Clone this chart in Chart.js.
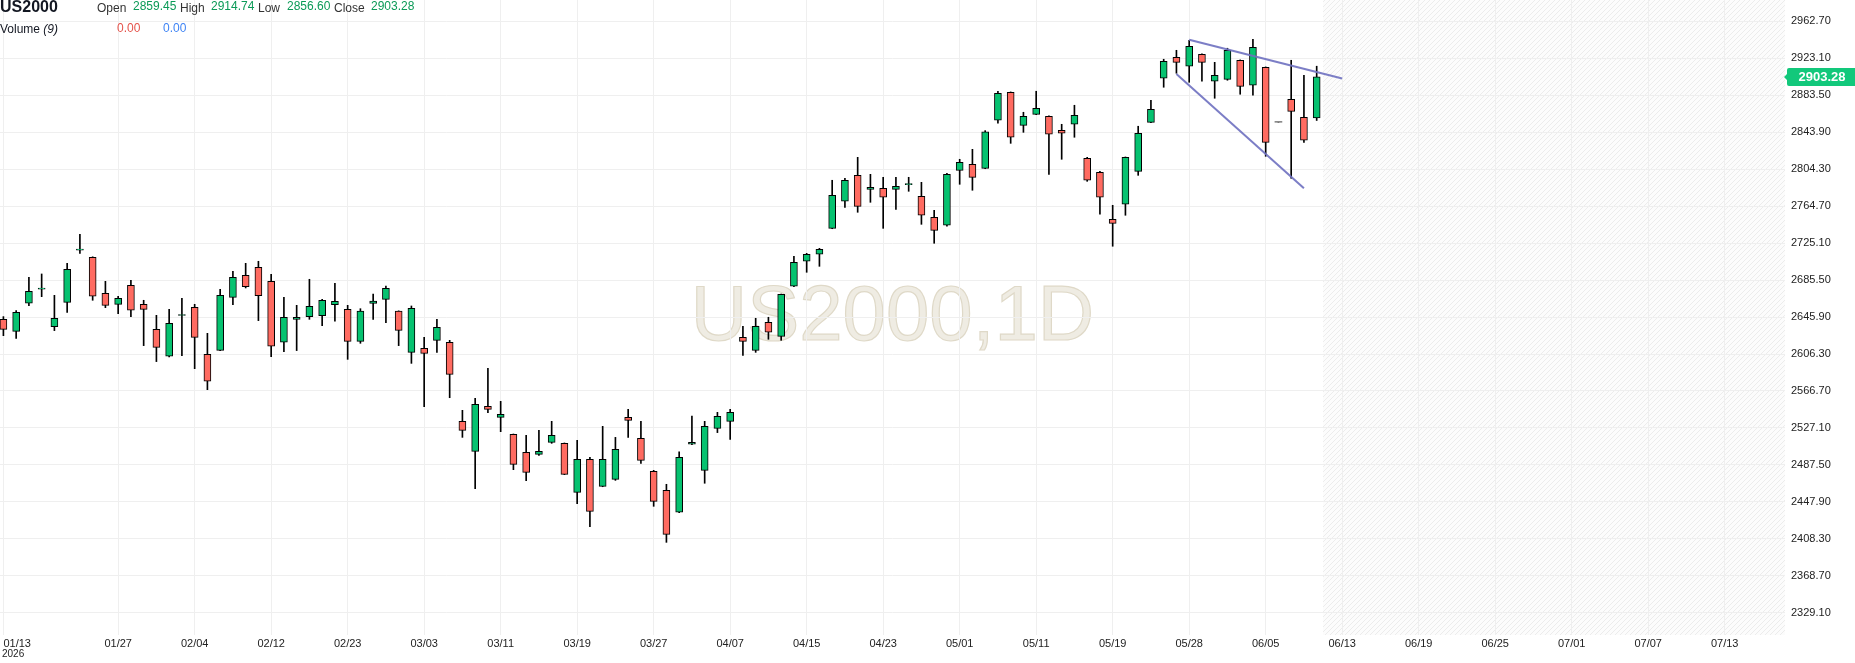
<!DOCTYPE html>
<html><head><meta charset="utf-8">
<script src="https://cdn.jsdelivr.net/npm/chart.js@4.4.1/dist/chart.umd.min.js"></script>
<style>
html,body{margin:0;padding:0;background:#fff;overflow:hidden}
#wrap{position:relative;width:1855px;height:663px}
#c{position:absolute;left:0;top:0}
.t{position:absolute;font-family:"Liberation Sans",Arial,sans-serif;font-size:12px;line-height:12px;white-space:nowrap;color:#333}
.v{color:#0b9a57}
</style></head><body>
<div id="wrap">
<canvas id="c" width="1855" height="663"></canvas>
<div class="t" style="left:0;top:-1px;font-size:16px;line-height:16px;font-weight:bold;color:#131722">US2000</div>
<div class="t" style="left:97px;top:1.5px">Open</div>
<div class="t v" style="left:133px;top:-0.3px">2859.45</div>
<div class="t" style="left:180px;top:1.5px">High</div>
<div class="t v" style="left:211px;top:-0.3px">2914.74</div>
<div class="t" style="left:258px;top:1.5px">Low</div>
<div class="t v" style="left:287px;top:-0.3px">2856.60</div>
<div class="t" style="left:334px;top:1.5px">Close</div>
<div class="t v" style="left:371px;top:-0.3px">2903.28</div>
<div class="t" style="left:0;top:23px;color:#131722">Volume <i>(9)</i></div>
<div class="t" style="left:117px;top:21.5px;color:#e5534b">0.00</div>
<div class="t" style="left:163px;top:21.5px;color:#3f84f5">0.00</div>
</div>
<script>
// ---- data ----
const dates = ['01/13','01/14','01/15','01/16','01/20','01/21','01/22','01/23','01/26','01/27','01/28','01/29','01/30',
'02/02','02/03','02/04','02/05','02/06','02/09','02/10','02/11','02/12','02/13','02/17','02/18','02/19','02/20','02/23','02/24','02/25','02/26','02/27',
'03/02','03/03','03/04','03/05','03/06','03/09','03/10','03/11','03/12','03/13','03/16','03/17','03/18','03/19','03/20','03/23','03/24','03/25','03/26','03/27','03/30','03/31',
'04/01','04/02','04/06','04/07','04/08','04/09','04/10','04/13','04/14','04/15','04/16','04/17','04/20','04/21','04/22','04/23','04/24','04/27','04/28','04/29','04/30',
'05/01','05/04','05/05','05/06','05/07','05/08','05/11','05/12','05/13','05/14','05/15','05/18','05/19','05/20','05/21','05/22','05/26','05/27','05/28','05/29',
'06/01','06/02','06/03','06/04','06/05','06/08','06/09','06/10','06/11'];

const opens = [2643.5,2630.6,2660.7,2675.8,2635.6,2661.7,2717.6,2710.0,2671.4,2659.6,
2680.0,2659.6,2632.8,2603.9,2647.6,2656.4,2606.0,2610.3,2667.1,2690.7,
2699.2,2684.2,2618.9,2643.5,2646.4,2647.5,2659.2,2654.2,2619.9,2660.6,
2664.9,2652.2,2608.1,2612.4,2621.0,2618.8,2534.2,2502.0,2550.2,2538.5,
2520.2,2500.9,2498.8,2511.7,2510.6,2458.1,2493.4,2464.5,2472.0,2538.5,
2516.0,2480.6,2460.2,2436.7,2509.6,2481.7,2526.7,2534.2,2624.2,2610.3,
2640.3,2625.3,2678.9,2705.7,2713.2,2741.0,2770.0,2797.8,2782.8,2783.9,
2782.8,2787.8,2775.3,2752.8,2744.3,2803.2,2809.6,2805.3,2856.8,2886.8,
2851.4,2863.2,2861.1,2846.1,2852.5,2816.1,2801.1,2750.7,2766.8,2802.1,
2854.6,2901.8,2924.3,2914.7,2927.5,2898.6,2900.7,2921.1,2894.3,2913.6,
2854.6,2879.3,2860.0,2859.45];

const highs = [2646.4,2652.8,2688.5,2692.1,2669.2,2703.5,2734.6,2710.5,2684.2,2668.2,
2685.3,2663.9,2647.8,2654.2,2666.0,2659.6,2628.5,2675.7,2695.0,2703.5,
2705.7,2691.7,2667.1,2658.5,2686.4,2665.0,2682.1,2658.5,2654.9,2670.6,
2679.2,2652.6,2657.8,2624.2,2643.5,2621.0,2546.0,2558.8,2591.0,2555.6,
2520.6,2519.2,2524.5,2534.2,2511.0,2513.8,2495.6,2528.8,2517.0,2547.0,
2534.2,2481.7,2466.7,2501.4,2539.9,2534.2,2543.8,2547.1,2636.0,2644.6,
2645.7,2670.6,2711.0,2714.2,2719.6,2792.5,2794.6,2817.1,2798.9,2795.7,
2795.7,2795.7,2790.3,2760.3,2800.0,2815.0,2825.7,2845.7,2887.9,2887.2,
2865.4,2887.9,2861.5,2852.5,2872.9,2817.1,2802.1,2765.7,2817.5,2850.4,
2878.2,2922.2,2931.8,2942.5,2927.9,2918.9,2934.0,2921.5,2943.6,2914.0,
2854.6,2921.1,2905.0,2914.74];

const lows = [2626.0,2623.1,2658.2,2667.8,2631.4,2651.0,2714.2,2663.9,2656.0,2649.6,
2646.4,2615.3,2598.2,2603.2,2604.6,2590.6,2568.1,2609.8,2659.2,2677.1,
2642.1,2603.5,2608.9,2610.0,2643.5,2636.8,2641.4,2600.6,2617.8,2643.5,
2639.9,2615.3,2596.3,2549.9,2608.1,2559.5,2517.0,2462.0,2543.5,2523.1,
2482.4,2470.6,2497.7,2510.6,2477.0,2445.9,2421.3,2464.1,2470.9,2517.0,
2489.2,2443.1,2404.5,2436.3,2509.2,2467.8,2522.1,2514.9,2604.9,2608.1,
2622.1,2621.0,2678.5,2693.9,2700.3,2740.6,2763.5,2758.2,2768.9,2741.0,
2761.4,2780.7,2745.3,2725.0,2743.2,2788.2,2781.8,2804.9,2853.6,2832.1,
2843.9,2862.8,2798.9,2815.0,2838.6,2791.4,2756.1,2721.8,2755.0,2797.8,
2854.2,2892.2,2907.2,2897.5,2898.6,2880.4,2899.7,2884.7,2883.6,2818.2,
2854.6,2794.6,2833.2,2856.60];

const closes = [2632.8,2651.0,2673.5,2676.9,2644.6,2697.1,2718.7,2668.2,2658.5,2666.0,
2653.2,2654.2,2613.5,2639.2,2647.9,2624.2,2577.1,2669.2,2688.5,2678.5,
2668.9,2614.6,2645.7,2645.7,2657.5,2663.9,2662.8,2619.9,2652.2,2663.1,
2676.7,2631.7,2655.3,2607.0,2634.9,2584.5,2524.5,2552.4,2547.0,2541.7,
2488.1,2479.5,2502.0,2519.2,2477.4,2493.4,2437.7,2493.4,2504.2,2535.2,
2492.4,2448.4,2413.1,2495.6,2511.7,2528.9,2539.6,2543.9,2619.9,2636.0,
2629.6,2670.3,2704.6,2713.2,2718.5,2776.4,2792.5,2764.6,2785.0,2774.3,
2786.0,2788.6,2755.0,2738.9,2798.9,2811.8,2795.7,2844.3,2885.7,2838.6,
2861.1,2869.7,2841.8,2842.9,2862.1,2792.5,2774.3,2746.4,2817.1,2842.9,
2868.6,2920.0,2918.9,2936.1,2918.9,2905.0,2931.8,2893.2,2935.0,2833.2,
2854.6,2866.4,2835.4,2903.28];

const xTickIdx = [0,9,15,21,27,33,39,45,51,57,63,69,75,81,87,93,99,105,111,117,123,129,135];
const xTickLabels = ['01/13','01/27','02/04','02/12','02/23','03/03','03/11','03/19','03/27','04/07','04/15','04/23','05/01','05/11','05/19','05/28','06/05','06/13','06/19','06/25','07/01','07/07','07/13'];
const yearLabel = '2026';
const yTicks = [2329.10,2368.70,2408.30,2447.90,2487.50,2527.10,2566.70,2606.30,2645.90,2685.50,2725.10,2764.70,2804.30,2843.90,2883.50,2923.10,2962.70];
const upperTrend = [[93, 2943.2], [105, 2901.5]];
const lowerTrend = [[92, 2906.4], [102, 2783.9]];
const watermark = 'US2000,1D';

// ---- styles ----
const GREEN = '#06c270', RED = '#ff6b61', FLAT = '#8a8a8a';
const FONT = '"Liberation Sans", Arial, sans-serif';
const N = dates.length;
const idx = dates.map((_, i) => i);
const isFlat = i => highs[i] === lows[i];

// hatch pattern
const pc = document.createElement('canvas'); pc.width = 5; pc.height = 5;
const pg = pc.getContext('2d');
pg.fillStyle = '#fcfcfc'; pg.fillRect(0, 0, 5, 5);
pg.strokeStyle = '#ececec'; pg.lineWidth = 1;
pg.beginPath(); pg.moveTo(0, 5); pg.lineTo(5, 0); pg.moveTo(-1, 1); pg.lineTo(1, -1); pg.moveTo(4, 6); pg.lineTo(6, 4); pg.stroke();

const decor = {
  id: 'decor',
  beforeDraw(chart) {
    const { ctx, chartArea: a, scales: { x } } = chart;
    ctx.save();
    ctx.fillStyle = '#fff'; ctx.fillRect(0, 0, chart.width, chart.height);
    const hx = x.getPixelForValue(N - 0.5);
    ctx.fillStyle = ctx.createPattern(pc, 'repeat');
    ctx.fillRect(hx, a.top, a.right - hx, a.bottom - a.top);
    ctx.font = '78px ' + FONT;
    ctx.textAlign = 'center'; ctx.textBaseline = 'alphabetic';
    const cx = (a.left + a.right) / 2, cy = (a.top + a.bottom) / 2 + 22;
    ctx.fillStyle = '#efece3'; ctx.fillText(watermark, cx, cy);
    ctx.strokeStyle = '#dfd9c8'; ctx.lineWidth = 1.2; ctx.strokeText(watermark, cx, cy);
    ctx.restore();
  },
  afterDraw(chart) {
    const { ctx, chartArea: a, scales: { x, y } } = chart;
    ctx.save();
    ctx.fillStyle = '#222'; ctx.textAlign = 'left'; ctx.textBaseline = 'middle';
    ctx.font = '11px ' + FONT;
    ctx.fillText(xTickLabels[0], Math.max(3, x.getPixelForValue(xTickIdx[0])), a.bottom + 8.6);
    ctx.font = '10px ' + FONT;
    ctx.fillText(yearLabel, 2, a.bottom + 19);
    const last = closes[N - 1];
    const yy = y.getPixelForValue(last);
    const l = a.right + 2, r = chart.width;
    ctx.fillStyle = '#12c87b';
    ctx.beginPath();
    ctx.moveTo(l + 2, yy - 9); ctx.lineTo(r, yy - 9); ctx.lineTo(r, yy + 9); ctx.lineTo(l + 2, yy + 9);
    ctx.quadraticCurveTo(l, yy + 9, l, yy + 7); ctx.lineTo(l, yy + 3); ctx.lineTo(l - 3, yy); ctx.lineTo(l, yy - 3);
    ctx.lineTo(l, yy - 7); ctx.quadraticCurveTo(l, yy - 9, l + 2, yy - 9); ctx.closePath(); ctx.fill();
    ctx.fillStyle = '#fff'; ctx.font = 'bold 13px ' + FONT; ctx.textAlign = 'center';
    ctx.fillText(last.toFixed(2), (l + r) / 2 + 1, yy + 0.5);
    ctx.restore();
  }
};

const trendColor = 'rgba(110,112,192,0.9)';
new Chart(document.getElementById('c'), {
  type: 'bar',
  data: {
    datasets: [
      { type: 'line', data: upperTrend.map(p => ({ x: p[0], y: p[1] })), borderColor: trendColor, borderWidth: 2, pointRadius: 0, fill: false, tension: 0, order: 0 },
      { type: 'line', data: lowerTrend.map(p => ({ x: p[0], y: p[1] })), borderColor: trendColor, borderWidth: 2, pointRadius: 0, fill: false, tension: 0, order: 0 },
      {
        label: 'body', order: 1, grouped: false, barThickness: 7, minBarLength: 1, borderSkipped: false,
        data: idx.map(i => ({ x: i, y: [opens[i], closes[i]] })),
        backgroundColor: c => { const i = c.dataIndex; if (i === undefined) return GREEN; if (isFlat(i)) return FLAT; return closes[i] >= opens[i] ? GREEN : RED; },
        borderColor: '#000',
        borderWidth: c => (c.dataIndex !== undefined && isFlat(c.dataIndex)) ? 0 : 1
      },
      {
        label: 'wick', order: 2, grouped: false, barThickness: 1,
        data: idx.map(i => ({ x: i, y: [lows[i], highs[i]] })),
        backgroundColor: '#000', borderWidth: 0
      }
    ]
  },
  options: {
    responsive: false, animation: false,
    layout: { padding: 0 },
    plugins: { legend: { display: false }, tooltip: { enabled: false } },
    scales: {
      x: {
        type: 'linear', min: -0.267, max: 139.73, offset: false, bounds: 'data',
        grid: { color: '#efefef', offset: false, drawTicks: false, lineWidth: 1 },
        border: { display: false },
        ticks: {
          autoSkip: false, maxRotation: 0, minRotation: 0, padding: 2, color: '#222', font: { family: FONT, size: 11 },
          callback: v => { const k = xTickIdx.indexOf(v); return k > 0 ? xTickLabels[k] : ''; }
        },
        afterBuildTicks: s => { s.ticks = xTickIdx.map(v => ({ value: v })); },
        afterFit: s => { s.height = 28; s.paddingLeft = 0; s.paddingRight = 0; }
      },
      y: {
        type: 'linear', position: 'right', min: 2305.2, max: 2985.7, bounds: 'data',
        grid: { color: '#efefef', drawTicks: false, lineWidth: 1 },
        border: { display: false },
        ticks: { padding: 6, color: '#222', font: { family: FONT, size: 11 }, callback: v => Number(v).toFixed(2) },
        afterBuildTicks: s => { s.ticks = yTicks.map(v => ({ value: v })); },
        afterFit: s => { s.width = 70; s.paddingTop = 0; s.paddingBottom = 0; }
      }
    }
  },
  plugins: [decor]
});
</script>
</body></html>
